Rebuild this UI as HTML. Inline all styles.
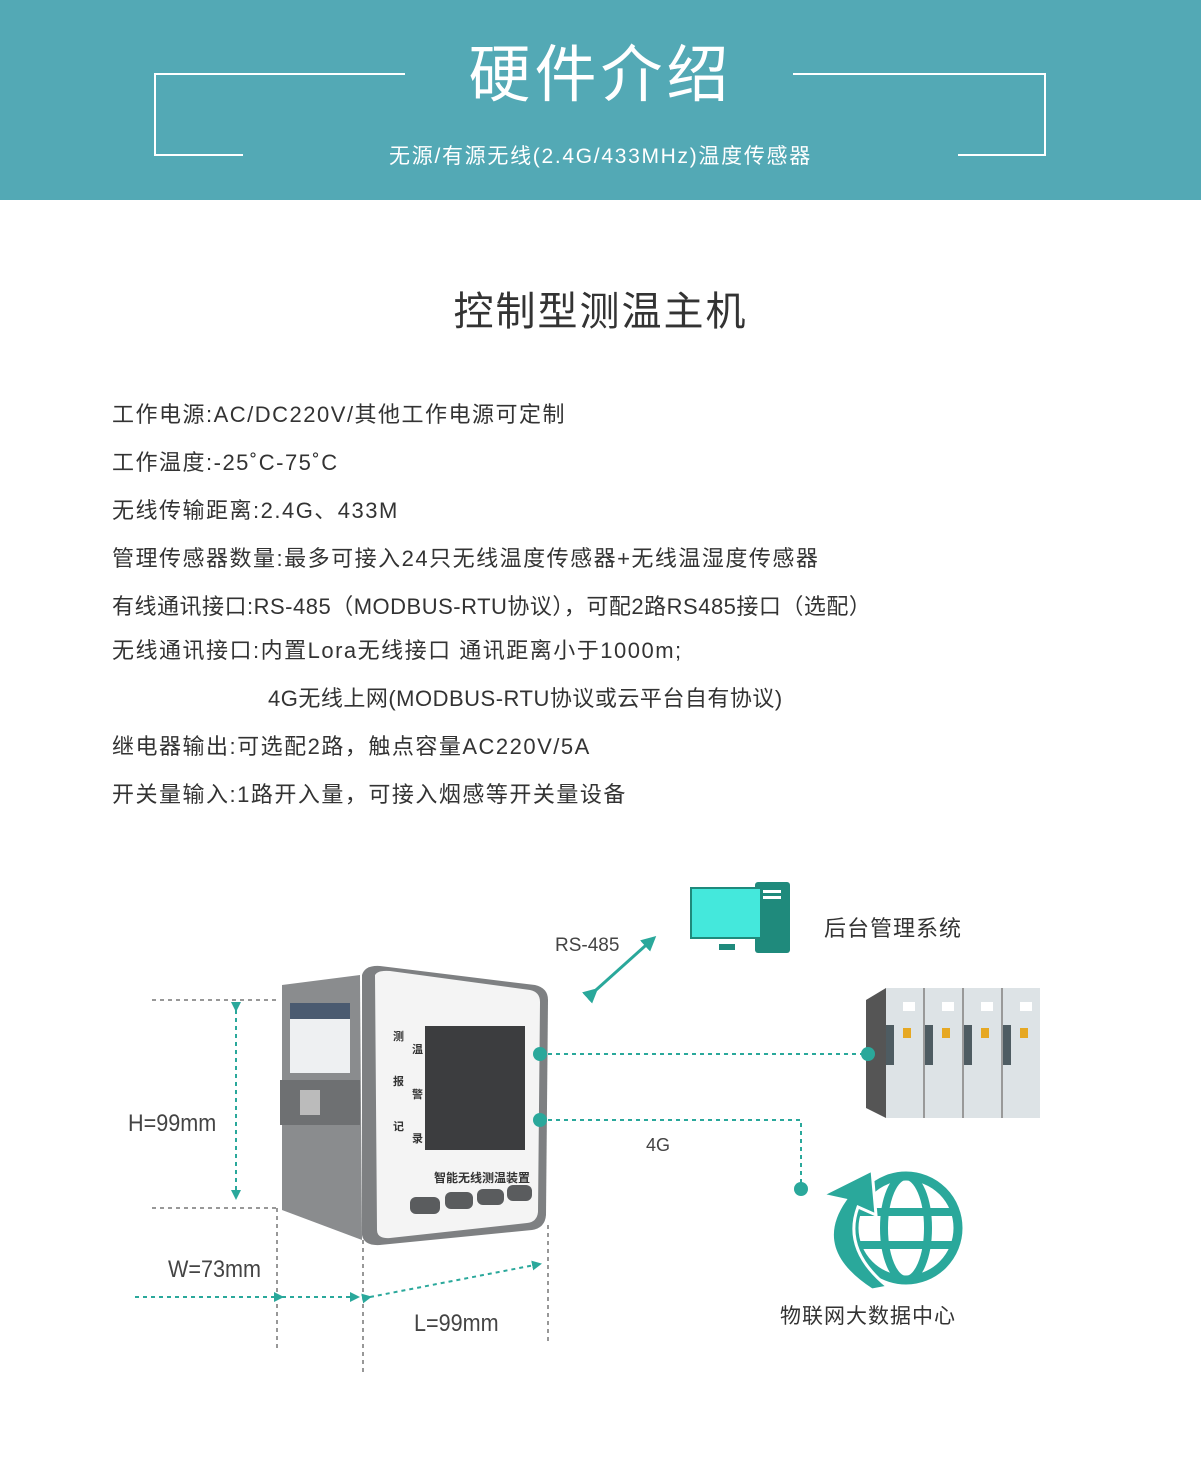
<!DOCTYPE html>
<html><head><meta charset="utf-8"><style>
body{margin:0;width:1201px;height:1459px;background:#fff;position:relative;overflow:hidden;font-family:"Liberation Sans","Noto Sans CJK SC",sans-serif;}
.hdr{position:absolute;left:0;top:0;width:1201px;height:200px;background:#53a9b5;}
.t{position:absolute;white-space:nowrap;}
.spec{position:absolute;left:112px;font-size:22px;color:#333;white-space:nowrap;line-height:26px;letter-spacing:1.5px;}
.m{font-size:24px;color:#444;transform:scaleX(0.9);transform-origin:left;}
</style></head><body>
<div class="hdr"></div>
<svg style="position:absolute;left:0;top:0" width="1201" height="200">
<polyline points="405,74 155,74 155,155 243,155" fill="none" stroke="#fff" stroke-width="2"/>
<polyline points="793,74 1045,74 1045,155 958,155" fill="none" stroke="#fff" stroke-width="2"/>
</svg>
<div class="t" style="left:0;width:1201px;text-align:center;top:38px;font-size:62px;color:#fff;letter-spacing:4px;line-height:76px;">硬件介绍</div>
<div class="t" style="left:0;width:1201px;text-align:center;top:144px;font-size:21px;color:#fff;line-height:26px;letter-spacing:1.7px;">无源/有源无线(2.4G/433MHz)温度传感器</div>
<div class="t" style="left:0;width:1201px;text-align:center;top:288px;font-size:40px;color:#333;letter-spacing:2px;line-height:48px;">控制型测温主机</div>
<div class="spec" style="top:402px">工作电源:AC/DC220V/其他工作电源可定制</div>
<div class="spec" style="top:450px">工作温度:-25˚C-75˚C</div>
<div class="spec" style="top:498px">无线传输距离:2.4G、433M</div>
<div class="spec" style="top:546px">管理传感器数量:最多可接入24只无线温度传感器+无线温湿度传感器</div>
<div class="spec" style="top:594px;letter-spacing:0.5px">有线通讯接口:RS-485（MODBUS-RTU协议），可配2路RS485接口（选配）</div>
<div class="spec" style="top:638px">无线通讯接口:内置Lora无线接口 通讯距离小于1000m;</div>
<div class="spec" style="top:686px;left:268px;letter-spacing:0.5px">4G无线上网(MODBUS-RTU协议或云平台自有协议)</div>
<div class="spec" style="top:734px">继电器输出:可选配2路，触点容量AC220V/5A</div>
<div class="spec" style="top:782px">开关量输入:1路开入量，可接入烟感等开关量设备</div>

<svg style="position:absolute;left:0;top:850px" width="1201" height="609" viewBox="0 850 1201 609">
<defs><marker id="ar" markerWidth="5" markerHeight="5" refX="4" refY="2.5" orient="auto"><path d="M0,0 L5,2.5 L0,5 z" fill="#2aa89b"/></marker></defs>
<g stroke="#777" stroke-width="1.5" stroke-dasharray="4,4" fill="none">
<line x1="152" y1="1000" x2="278" y2="1000"/>
<line x1="152" y1="1208" x2="278" y2="1208"/>
<line x1="277" y1="1208" x2="277" y2="1350"/>
<line x1="363" y1="1240" x2="363" y2="1375"/>
<line x1="548" y1="1225" x2="548" y2="1345"/>
</g>
<g stroke="#2aa89b" stroke-width="2" stroke-dasharray="4,4" fill="none">
<line x1="236" y1="1010" x2="236" y2="1198" marker-start="url(#ar)" marker-end="url(#ar)"/>
<line x1="135" y1="1297" x2="275" y2="1297"/>
<line x1="282" y1="1297" x2="358" y2="1297" marker-start="url(#ar)" marker-end="url(#ar)"/>
<line x1="370" y1="1297" x2="540" y2="1264" marker-start="url(#ar)" marker-end="url(#ar)"/>
<line x1="540" y1="1054" x2="866" y2="1054"/>
<polyline points="540,1120 801,1120 801,1186"/>
</g>
<line x1="596" y1="990" x2="654" y2="938" stroke="#2aa89b" stroke-width="3" marker-start="url(#ar)" marker-end="url(#ar)"/>
<path d="M282,985 L360,975 L362,1240 L282,1210 Z" fill="#8a8c8e"/>
<rect x="290" y="1003" width="60" height="70" fill="#eef0f2"/>
<rect x="290" y="1003" width="60" height="16" fill="#4a5a70"/>
<rect x="280" y="1080" width="80" height="45" fill="#6e7072"/>
<rect x="300" y="1090" width="20" height="25" fill="#bbb"/>
<path d="M362,975 Q365,965 380,966 L535,985 Q548,988 548,1000 L546,1215 Q545,1228 532,1230 L380,1245 Q364,1246 362,1235 Z" fill="#7e8082"/>
<path d="M375,975 Q378,970 390,971 L530,990 Q540,992 540,1002 L538,1212 Q537,1222 527,1223 L390,1238 Q377,1239 377,1230 Z" fill="#f4f4f4"/>
<rect x="425" y="1026" width="100" height="124" fill="#3c3d3f"/>
<g font-size="11" fill="#333" font-weight="bold"><text x="393" y="1040">测</text><text x="412" y="1053">温</text><text x="393" y="1085">报</text><text x="412" y="1098">警</text><text x="393" y="1130">记</text><text x="412" y="1142">录</text></g>
<text x="434" y="1182" font-size="12" fill="#333" font-weight="bold">智能无线测温装置</text>
<g fill="#5a5c5e"><rect x="410" y="1197" width="30" height="17" rx="6"/><rect x="445" y="1192" width="28" height="17" rx="6"/><rect x="477" y="1189" width="27" height="16" rx="6"/><rect x="507" y="1185" width="25" height="16" rx="6"/></g>
<circle cx="540" cy="1054" r="7" fill="#2aa89b"/><circle cx="540" cy="1120" r="7" fill="#2aa89b"/>
<rect x="755" y="882" width="35" height="71" rx="3" fill="#1f8a7c"/>
<rect x="763" y="890" width="18" height="3" fill="#fff"/><rect x="763" y="896" width="18" height="3" fill="#fff"/>
<rect x="691" y="888" width="70" height="50" fill="#44e8dc" stroke="#1f8a7c" stroke-width="2"/>
<rect x="719" y="944" width="16" height="6" fill="#1f8a7c"/>
<path d="M866,1000 L886,988 L886,1118 L866,1108 Z" fill="#555"/>
<rect x="886" y="988" width="154" height="130" fill="#dde3e6"/>
<g fill="#999"><rect x="923" y="988" width="2" height="130"/><rect x="962" y="988" width="2" height="130"/><rect x="1001" y="988" width="2" height="130"/></g>
<g fill="#4e5c62"><rect x="886" y="1025" width="8" height="40"/><rect x="925" y="1025" width="8" height="40"/><rect x="964" y="1025" width="8" height="40"/><rect x="1003" y="1025" width="8" height="40"/></g>
<g fill="#e6a823"><rect x="903" y="1028" width="8" height="10"/><rect x="942" y="1028" width="8" height="10"/><rect x="981" y="1028" width="8" height="10"/><rect x="1020" y="1028" width="8" height="10"/></g>
<g fill="#fff"><rect x="903" y="1002" width="12" height="9"/><rect x="942" y="1002" width="12" height="9"/><rect x="981" y="1002" width="12" height="9"/><rect x="1020" y="1002" width="12" height="9"/></g>
<circle cx="868" cy="1054" r="7" fill="#2aa89b"/><circle cx="801" cy="1189" r="7" fill="#2aa89b"/>
<circle cx="906" cy="1228" r="52" fill="none" stroke="#2aa89b" stroke-width="9"/>
<ellipse cx="906" cy="1228" rx="22" ry="52" fill="none" stroke="#2aa89b" stroke-width="8"/>
<line x1="856" y1="1212" x2="956" y2="1212" stroke="#2aa89b" stroke-width="8"/>
<line x1="856" y1="1245" x2="956" y2="1245" stroke="#2aa89b" stroke-width="8"/>
<path d="M872,1290 Q810,1250 845,1200 L822,1195 L872,1170 L876,1215 L858,1207 Q842,1250 888,1287 Z" fill="#2aa89b" stroke="#fff" stroke-width="3"/>
</svg>
<div class="t" style="left:555px;top:935px;font-size:19px;color:#444;">RS-485</div>
<div class="t" style="left:824px;top:911px;font-size:22px;color:#333;letter-spacing:1px;">后台管理系统</div>
<div class="t" style="left:646px;top:1135px;font-size:18px;color:#444;">4G</div>
<div class="t m" style="left:128px;top:1110px;">H=99mm</div>
<div class="t m" style="left:168px;top:1256px;">W=73mm</div>
<div class="t m" style="left:414px;top:1310px;">L=99mm</div>
<div class="t" style="left:780px;top:1300px;font-size:21px;color:#333;letter-spacing:1px;">物联网大数据中心</div>
</body></html>
